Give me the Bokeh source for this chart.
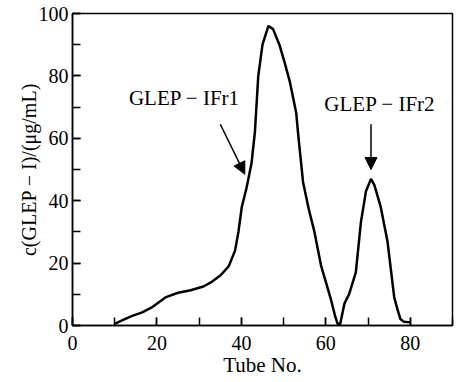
from bokeh.plotting import figure
from bokeh.models import Arrow, NormalHead, Label, SingleIntervalTicker, Range1d
from bokeh.embed import file_html
from bokeh.resources import INLINE

# Elution profile
tube = [10, 12, 14, 16.5, 19, 22, 25, 28, 31, 33, 35, 37, 38.5, 39.3, 40.1, 41.2,
        42.4, 43.2, 44, 45, 46.4, 47.5, 49, 50.3, 51.5, 53, 53.4, 53.8, 54.6, 56,
        57.3, 58.9, 60, 61.2, 62.2, 62.8, 63.4, 64.4, 65.5, 67.1, 68.3, 69.5, 70.7,
        71.5, 73, 74.6, 76.2, 77, 77.7, 78.5, 80]
conc = [0.5, 1.8, 3, 4.2, 6, 9, 10.5, 11.3, 12.5, 14, 16, 19, 24, 30, 38, 44,
        52, 62, 80, 90, 96, 95, 90, 84, 78, 68, 62, 56.6, 46, 37,
        30, 19, 14, 8.4, 3, 0.5, 0.5, 7, 10, 17, 33, 43, 47,
        45, 38, 27, 9, 5, 2, 1.2, 1]

x_ticks_interval = 20
y_ticks_interval = 20
x_range = (0, 90)
y_range = (0, 100)

label1 = "GLEP − IFr1"
label2 = "GLEP − IFr2"
label1_pos = (26.5, 69.0)
label2_pos = (72.8, 67.0)
arrow1 = (35.0, 64.5, 40.8, 48.5)
arrow2 = (70.7, 64.5, 70.7, 50.0)

FONT = "Liberation Serif"

p = figure(width=455, height=380, output_backend="svg", toolbar_location=None,
           x_range=Range1d(*x_range), y_range=Range1d(*y_range),
           min_border_left=72, min_border_right=3, min_border_top=13, min_border_bottom=55)
p.grid.visible = False
p.background_fill_color = "white"
p.border_fill_color = "white"
p.outline_line_color = "black"
p.outline_line_width = 1.5

p.line(tube, conc, line_color="black", line_width=2.5)

for ax in (p.xaxis[0], p.yaxis[0]):
    ax.axis_line_width = 1.5
    ax.major_tick_line_width = 1.5
    ax.minor_tick_line_width = 1.5
    ax.major_tick_in = 8
    ax.major_tick_out = 0
    ax.minor_tick_in = 8
    ax.minor_tick_out = 0
    ax.major_label_text_font = FONT
    ax.major_label_text_font_size = "20px"
    ax.major_label_text_color = "black"
    ax.axis_label_text_font = FONT
    ax.axis_label_text_font_style = "normal"
    ax.axis_label_text_color = "black"

p.xaxis.axis_label_text_font_size = "21px"
p.yaxis.axis_label_text_font_size = "20px"
p.xaxis.ticker = SingleIntervalTicker(interval=x_ticks_interval, num_minor_ticks=2)
p.yaxis.ticker = SingleIntervalTicker(interval=y_ticks_interval, num_minor_ticks=2)
p.xaxis.axis_label = "Tube No."
p.yaxis.axis_label = "c(GLEP − I)/(μg/mL)"
p.xaxis.major_label_standoff = 10
p.xaxis.axis_label_standoff = 0
p.yaxis.major_label_standoff = 4
p.yaxis.axis_label_standoff = -4

for txt, pos in ((label1, label1_pos), (label2, label2_pos)):
    p.add_layout(Label(x=pos[0], y=pos[1], text=txt, text_font=FONT,
                       text_font_size="21px", text_align="center",
                       text_baseline="bottom", text_color="black"))

for a in (arrow1, arrow2):
    p.add_layout(Arrow(x_start=a[0], y_start=a[1], x_end=a[2], y_end=a[3],
                       line_width=1.5, line_color="black",
                       end=NormalHead(size=12, fill_color="black", line_color="black")))

open("out.html", "w").write(file_html(p, INLINE))
